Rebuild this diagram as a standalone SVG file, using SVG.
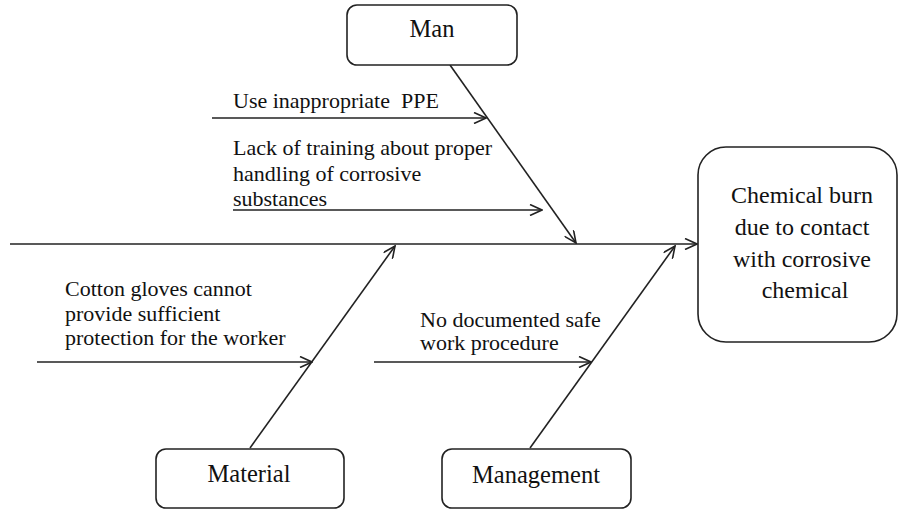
<svg xmlns="http://www.w3.org/2000/svg" width="903" height="509" viewBox="0 0 903 509">
  <style>
    .box { fill: #ffffff; stroke: #222222; stroke-width: 1.6; }
    .ln { fill: none; stroke: #222222; stroke-width: 1.6; marker-end: url(#arrow); }
    .lbl { font-family: "Liberation Serif", "Times New Roman", serif; font-size: 22px; fill: #111111; }
    .title { font-family: "Liberation Serif", "Times New Roman", serif; font-size: 24.5px; fill: #111111; text-anchor: middle; }
    .effect-text { font-size: 24px; }
  </style>
  <defs>
    <marker id="arrow" viewBox="0 0 14 12" refX="13" refY="6" markerWidth="14" markerHeight="12" markerUnits="userSpaceOnUse" orient="auto">
      <path d="M1,0.5 L13,6 L1,11.5" fill="none" stroke="#222222" stroke-width="1.6"/>
    </marker>
  </defs>

  <rect width="903" height="509" fill="#ffffff"/>

  <!-- connectors: spine, bones and cause arrows -->
  <g id="connectors">
    <line class="ln" x1="10" y1="244" x2="697" y2="244"/>
    <line class="ln" x1="450" y1="65" x2="576" y2="243"/>
    <line class="ln" x1="250" y1="448" x2="395" y2="246"/>
    <line class="ln" x1="530" y1="448" x2="675" y2="246"/>
    <line class="ln" x1="212" y1="118" x2="486" y2="118"/>
    <line class="ln" x1="233" y1="210" x2="542" y2="210"/>
    <line class="ln" x1="37" y1="362" x2="312" y2="362"/>
    <line class="ln" x1="374" y1="362" x2="591" y2="362"/>
  </g>

  <!-- effect -->
  <g id="effect">
    <rect class="box" x="698" y="147" width="199" height="195" rx="28" ry="28"/>
    <text class="title effect-text">
      <tspan x="805" y="203">Chemical burn</tspan>
      <tspan x="805" y="235">due to contact</tspan>
      <tspan x="805" y="267">with corrosive</tspan>
      <tspan x="805" y="298">chemical</tspan>
    </text>
  </g>

  <!-- category: Man -->
  <g id="man">
    <rect class="box" x="347" y="5" width="170" height="60" rx="10" ry="10"/>
    <text class="title" x="432" y="37">Man</text>
  </g>

  <!-- category: Material -->
  <g id="material">
    <rect class="box" x="156" y="449" width="188" height="59" rx="10" ry="10"/>
    <text class="title" x="249" y="482">Material</text>
  </g>

  <!-- category: Management -->
  <g id="management">
    <rect class="box" x="442" y="449" width="189" height="59" rx="10" ry="10"/>
    <text class="title" x="536" y="483">Management</text>
  </g>

  <!-- causes -->
  <g id="cause-ppe">
    <text class="lbl" x="233" y="108" style="white-space:pre">Use inappropriate  PPE</text>
  </g>
  <g id="cause-training">
    <text class="lbl">
      <tspan x="233" y="155">Lack of training about proper</tspan>
      <tspan x="233" y="181">handling of corrosive</tspan>
      <tspan x="233" y="206">substances</tspan>
    </text>
  </g>
  <g id="cause-gloves">
    <text class="lbl">
      <tspan x="65" y="296">Cotton gloves cannot</tspan>
      <tspan x="65" y="321">provide sufficient</tspan>
      <tspan x="65" y="345">protection for the worker</tspan>
    </text>
  </g>
  <g id="cause-procedure">
    <text class="lbl">
      <tspan x="420" y="327">No documented safe</tspan>
      <tspan x="420" y="350">work procedure</tspan>
    </text>
  </g>
</svg>
